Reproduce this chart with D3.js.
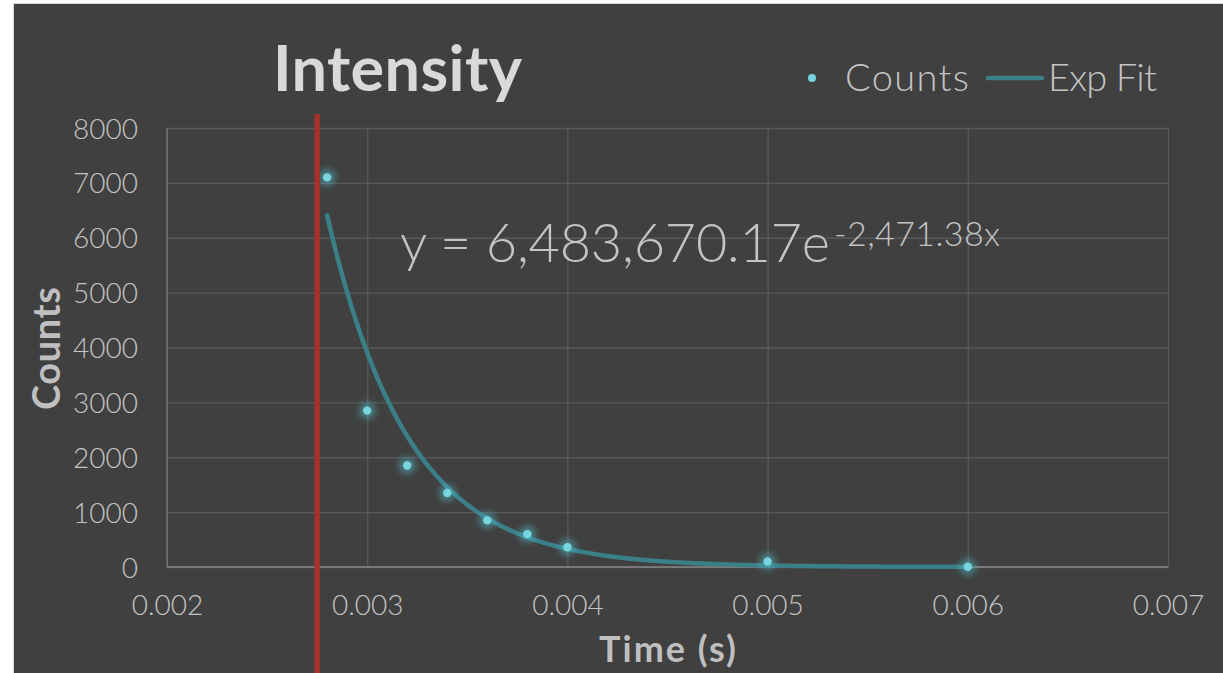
<!DOCTYPE html>
<html>
<head>
<meta charset="utf-8">
<script src="https://cdn.jsdelivr.net/npm/d3@7"></script>
<style>
  html, body { margin: 0; padding: 0; background: #ffffff; }
  svg { display: block; }
  text { font-family: Lato, "Open Sans", sans-serif; }
  .light { font-weight: 300; }
</style>
</head>
<body>
<svg id="chart" width="1223" height="673"></svg>
<script>
// Decay measurements
const timeSec = [0.0028, 0.0030, 0.0032, 0.0034, 0.0036, 0.0038, 0.0040, 0.0050, 0.0060];
const counts  = [7100, 2850, 1850, 1350, 850, 600, 360, 100, 5];

// Exponential fit y = A * e^(k x)
const fitA = 6483670.17;
const fitK = -2471.38;
const fitRange = [0.0028, 0.0060];

// Vertical marker time
const markerTime = 0.00275;

// Axis ticks
const xTicks = [0.002, 0.003, 0.004, 0.005, 0.006, 0.007];
const xTickLabels = ["0.002", "0.003", "0.004", "0.005", "0.006", "0.007"];
const yTicks = [0, 1000, 2000, 3000, 4000, 5000, 6000, 7000, 8000];

const seriesNames = ["Counts", "Exp Fit"];
const chartTitle = "Intensity";
const xTitle = "Time (s)";
const yTitle = "Counts";

const W = 1223, H = 673;
const plot = { left: 167, right: 1168, top: 128, bottom: 567 };

const svg = d3.select("#chart");

// Chart background with light frame on top/left
svg.append("rect").attr("x", 0).attr("y", 0).attr("width", W).attr("height", H).attr("fill", "#ffffff");
svg.append("rect").attr("x", 13.5).attr("y", 3.5).attr("width", W).attr("height", H)
  .attr("fill", "#404040").attr("stroke", "#d9d9d9").attr("stroke-width", 1);

const x = d3.scaleLinear().domain([0.002, 0.007]).range([plot.left, plot.right]);
const y = d3.scaleLinear().domain([0, 8000]).range([plot.bottom, plot.top]);

// Glow filter for markers
const defs = svg.append("defs");
const glow = defs.append("filter").attr("id", "glow")
  .attr("x", "-100%").attr("y", "-100%").attr("width", "300%").attr("height", "300%");
glow.append("feGaussianBlur").attr("stdDeviation", 3.5);

// Horizontal gridlines
const yAxis = d3.axisLeft(y).tickValues(yTicks).tickFormat(d3.format("d"))
  .tickSize(-(plot.right - plot.left)).tickPadding(29);
const gy = svg.append("g").attr("transform", `translate(${plot.left},0)`).call(yAxis);
gy.select(".domain").remove();
gy.selectAll(".tick line").attr("stroke", "#595959").attr("stroke-width", 1.3);
gy.selectAll(".tick text").attr("class", "light").attr("fill", "#c4c4c4")
  .attr("font-size", 28).attr("dy", "0.36em");

// Vertical gridlines and labels
const xAxis = d3.axisBottom(x).tickValues(xTicks).tickFormat((d, i) => xTickLabels[i])
  .tickSize(-(plot.bottom - plot.top)).tickPadding(0);
const gx = svg.append("g").attr("transform", `translate(0,${plot.bottom})`).call(xAxis);
gx.select(".domain").remove();
gx.selectAll(".tick line").attr("stroke", "#595959").attr("stroke-width", 1.3);
gx.selectAll(".tick text").attr("class", "light").attr("fill", "#c4c4c4")
  .attr("font-size", 28).attr("y", 48).attr("dy", 0);

// Axis lines
svg.append("line").attr("x1", plot.left).attr("x2", plot.right)
  .attr("y1", y(0)).attr("y2", y(0)).attr("stroke", "#878787").attr("stroke-width", 1.5);
svg.append("line").attr("x1", x(0.002)).attr("x2", x(0.002))
  .attr("y1", plot.top).attr("y2", plot.bottom).attr("stroke", "#7a7a7a").attr("stroke-width", 1.3);

// Fitted curve
const fitX = d3.range(0, 301).map(i => fitRange[0] + (fitRange[1] - fitRange[0]) * i / 300);
const fitPts = fitX.map(t => [t, fitA * Math.exp(fitK * t)]);
svg.append("path").datum(fitPts)
  .attr("fill", "none").attr("stroke", "#3b7f88").attr("stroke-width", 4.5)
  .attr("stroke-linecap", "round")
  .attr("d", d3.line().x(d => x(d[0])).y(d => y(d[1])));

// Measured points with soft glow
const pts = timeSec.map((t, i) => ({ t, c: counts[i] }));
svg.append("g").selectAll("circle").data(pts).join("circle")
  .attr("cx", d => x(d.t)).attr("cy", d => y(d.c)).attr("r", 8)
  .attr("fill", "#4fb8c4").attr("opacity", 0.6).attr("filter", "url(#glow)");
svg.append("g").selectAll("circle").data(pts).join("circle")
  .attr("cx", d => x(d.t)).attr("cy", d => y(d.c)).attr("r", 4.2)
  .attr("fill", "#78d5de");

// Vertical marker
svg.append("line").attr("x1", x(markerTime)).attr("x2", x(markerTime))
  .attr("y1", 114).attr("y2", H).attr("stroke", "#a5332a").attr("stroke-width", 5.5);

// Helper: stretch letter spacing so a label spans a given width
function spanWidth(sel, w) {
  sel.attr("textLength", w).attr("lengthAdjust", "spacing");
  return sel;
}

// Title
spanWidth(svg.append("text").attr("x", 273).attr("y", 91)
  .attr("font-size", 63).attr("font-weight", "bold").attr("fill", "#d9d9d9")
  .text(chartTitle), 249);

// Axis titles
spanWidth(svg.append("text").attr("x", 599).attr("y", 662)
  .attr("font-size", 36).attr("font-weight", "bold").attr("fill", "#bfbfbf")
  .text(xTitle), 137);
spanWidth(svg.append("text").attr("transform", "translate(60,410) rotate(-90)")
  .attr("font-size", 38).attr("font-weight", "bold").attr("fill", "#bfbfbf")
  .text(yTitle), 123);

// Legend
svg.append("circle").attr("cx", 812).attr("cy", 78).attr("r", 4).attr("fill", "#78d5de");
spanWidth(svg.append("text").attr("class", "light").attr("x", 845).attr("y", 90.5)
  .attr("font-size", 38).attr("fill", "#c4c4c4").text(seriesNames[0]), 124);
svg.append("line").attr("x1", 988).attr("x2", 1042).attr("y1", 78).attr("y2", 78)
  .attr("stroke", "#3b7f88").attr("stroke-width", 4.5).attr("stroke-linecap", "round");
spanWidth(svg.append("text").attr("class", "light").attr("x", 1048).attr("y", 90.5)
  .attr("font-size", 38).attr("fill", "#c4c4c4").text(seriesNames[1]), 109);

// Fit equation label
const fmt = v => d3.format(",.2f")(v).replace("\u2212", "-");
spanWidth(svg.append("text").attr("class", "light").attr("x", 400).attr("y", 262)
  .attr("font-size", 54).attr("fill", "#c4c4c4")
  .text(`y = ${fmt(fitA)}e`), 430);
spanWidth(svg.append("text").attr("class", "light").attr("x", 834).attr("y", 246)
  .attr("font-size", 34).attr("fill", "#c4c4c4")
  .text(`${fmt(fitK)}x`), 166);
</script>
</body>
</html>
